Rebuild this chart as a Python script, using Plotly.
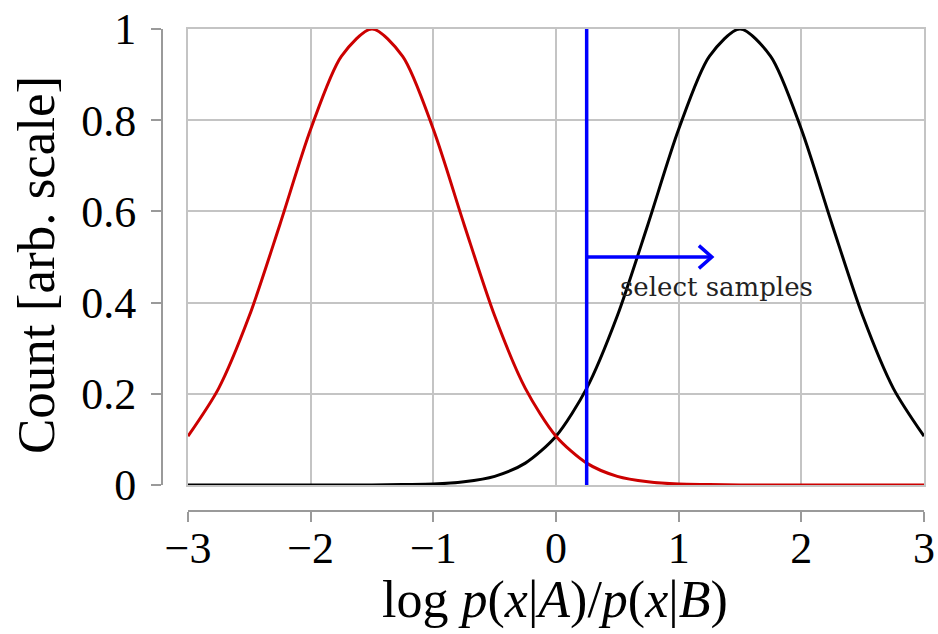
import plotly.graph_objects as go

# data (samples every 0.25)
x_vals = [-3.0, -2.75, -2.5, -2.25, -2.0, -1.75, -1.5, -1.25, -1.0, -0.75, -0.5, -0.25,
          0.0, 0.25, 0.5, 0.75, 1.0, 1.25, 1.5, 1.75, 2.0, 2.25, 2.5, 2.75, 3.0]
red_counts = [0.107, 0.212, 0.371, 0.572, 0.780, 0.940, 1.000, 0.940, 0.780, 0.572, 0.371, 0.212,
              0.107, 0.048, 0.019, 0.007, 0.002, 0.001, 0.000, 0.000, 0.000, 0.000, 0.000, 0.000, 0.000]
black_counts = [0.000, 0.000, 0.000, 0.000, 0.000, 0.000, 0.000, 0.001, 0.002, 0.007, 0.019, 0.048,
                0.107, 0.212, 0.371, 0.572, 0.780, 0.940, 1.000, 0.940, 0.780, 0.572, 0.371, 0.212, 0.107]
cut_x = [0.25, 0.25]
cut_y = [0.0, 1.0]
arrow_x = [0.25, 1.27]
arrow_y = [0.5, 0.5]
x_ticks = [-3, -2, -1, 0, 1, 2, 3]
y_ticks = [0, 0.2, 0.4, 0.6, 0.8, 1.0]

FONT = "Liberation Serif"
GRID = "#c4c4c4"
AXIS = "#9a9a9a"
W, H = 938, 634

fig = go.Figure()
fig.add_trace(go.Scatter(x=x_vals, y=black_counts, mode="lines",
                         line=dict(color="black", width=3, shape="spline", smoothing=0.8),
                         cliponaxis=False, showlegend=False))
fig.add_trace(go.Scatter(x=x_vals, y=red_counts, mode="lines",
                         line=dict(color="#cc0000", width=3, shape="spline", smoothing=0.8),
                         cliponaxis=False, showlegend=False))
fig.add_trace(go.Scatter(x=cut_x, y=cut_y, mode="lines",
                         line=dict(color="#0000ff", width=3.5), cliponaxis=False, showlegend=False))
fig.add_trace(go.Scatter(x=arrow_x, y=arrow_y, mode="lines",
                         line=dict(color="#0000ff", width=3.5), cliponaxis=False, showlegend=False))
# arrow head (open chevron) at the end of the arrow
tip_x, tip_y = arrow_x[-1], arrow_y[-1]
fig.add_trace(go.Scatter(x=[tip_x - 0.105, tip_x, tip_x - 0.105],
                         y=[tip_y + 0.025, tip_y, tip_y - 0.025], mode="lines",
                         line=dict(color="#0000ff", width=3.5), cliponaxis=False, showlegend=False))
# invisible trace for the detached axes
fig.add_trace(go.Scatter(x=[x_ticks[0]], y=[y_ticks[0]], xaxis="x2", yaxis="y2", mode="markers",
                         marker=dict(opacity=0), showlegend=False, hoverinfo="skip"))

x_dom = [188 / W, 924 / W]
y_dom = [1 - 485 / H, 1 - 29 / H]

fig.update_layout(
    width=W, height=H,
    margin=dict(l=0, r=0, t=0, b=0, autoexpand=False),
    paper_bgcolor="white", plot_bgcolor="white",
    font=dict(family=FONT, color="black"),
    xaxis=dict(domain=x_dom, range=[-3, 3], tickvals=x_ticks, showticklabels=False, ticks="",
               showgrid=True, gridcolor=GRID, gridwidth=2, zeroline=False, automargin=False,
               showline=True, mirror=True, linecolor=GRID, linewidth=2, layer="below traces",
               anchor="y"),
    yaxis=dict(domain=y_dom, range=[0, 1], tickvals=y_ticks, showticklabels=False, ticks="",
               showgrid=True, gridcolor=GRID, gridwidth=2, zeroline=False, automargin=False,
               showline=True, mirror=True, linecolor=GRID, linewidth=2, layer="below traces",
               anchor="x"),
    xaxis2=dict(overlaying="x", range=[-3, 3], tickvals=x_ticks, anchor="free", automargin=False,
                position=1 - 511 / H, side="bottom", showgrid=False, zeroline=False,
                showline=True, linecolor=AXIS, linewidth=2, ticks="outside", ticklen=10,
                tickwidth=2, tickcolor=AXIS, ticklabelstandoff=-12,
                tickfont=dict(family=FONT, size=44, color="black")),
    yaxis2=dict(overlaying="y", range=[0, 1], tickvals=y_ticks, anchor="free", automargin=False,
                position=162 / W, side="left", showgrid=False, zeroline=False,
                showline=True, linecolor=AXIS, linewidth=2, ticks="outside", ticklen=10,
                tickwidth=2, tickcolor=AXIS, ticklabelstandoff=6,
                tickfont=dict(family=FONT, size=44, color="black")),
    annotations=[
        dict(text="Count [arb. scale]", textangle=-90, x=36 / W, y=1 - 265 / H,
             xref="paper", yref="paper", showarrow=False, xanchor="center", yanchor="middle",
             font=dict(family=FONT, size=53, color="black")),
        dict(text="log <i>p</i>(<i>x</i>|<i>A</i>)/<i>p</i>(<i>x</i>|<i>B</i>)",
             x=555 / W, y=1 - 600 / H, xref="paper", yref="paper", showarrow=False,
             xanchor="center", yanchor="middle", font=dict(family=FONT, size=52, color="black")),
        dict(text="select samples", x=1.31, y=0.435, xref="x", yref="y", showarrow=False,
             xanchor="center", yanchor="middle", font=dict(family="DejaVu Serif", size=26, color="#222")),
    ],
)

fig.write_html("out.html")
